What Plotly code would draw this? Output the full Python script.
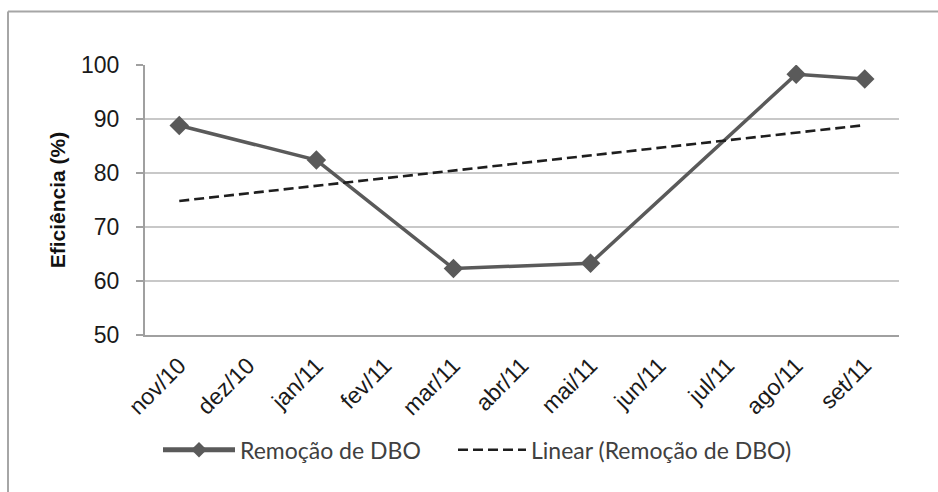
import numpy as np
import plotly.graph_objects as go

# Monthly categories and BOD removal efficiency (%); months without a sample are None
months = ["nov/10", "dez/10", "jan/11", "fev/11", "mar/11", "abr/11",
          "mai/11", "jun/11", "jul/11", "ago/11", "set/11"]
remocao_dbo = [88.8, None, 82.4, None, 62.3, None, 63.3, None, None, 98.3, 97.4]
y_ticks = [50, 60, 70, 80, 90, 100]

# Linear trend over category positions (same as a spreadsheet trendline)
idx = np.array([i for i, v in enumerate(remocao_dbo) if v is not None], dtype=float)
vals = np.array([v for v in remocao_dbo if v is not None], dtype=float)
slope, intercept = np.polyfit(idx, vals, 1)
trend = [intercept + slope * i for i in range(len(months))]

W, H = 938, 492
L, R, T, B = 145, 39, 64.5, 157
pw, ph = W - L - R, H - T - B

fig = go.Figure()
fig.add_trace(go.Scatter(
    x=months, y=remocao_dbo, name="Remoção de DBO",
    mode="lines+markers", connectgaps=True, legend="legend",
    line=dict(color="#5a5a5a", width=3.5),
    marker=dict(symbol="diamond", size=15, color="#5a5a5a"),
))
fig.add_trace(go.Scatter(
    x=months, y=trend, name="Linear (Remoção de DBO)",
    mode="lines", legend="legend2",
    line=dict(color="#1e1e1e", width=2.6, dash="10px,5px"),
))

def px_x(p):
    return (p - L) / pw

def px_y(p):
    return (H - B - p) / ph

# Outer chart frame (left and top edges)
frame = dict(color="#a6a6a6", width=2)
fig.add_shape(type="line", xref="paper", yref="paper",
              x0=px_x(8), x1=px_x(8), y0=px_y(11), y1=px_y(500), line=frame)
fig.add_shape(type="line", xref="paper", yref="paper",
              x0=px_x(8), x1=px_x(945), y0=px_y(11), y1=px_y(11), line=frame)

legend_font = dict(family="Lato, Open Sans, sans-serif", size=23, color="#404040")

fig.update_layout(
    width=W, height=H,
    margin=dict(l=L, r=R, t=T, b=B, autoexpand=False),
    paper_bgcolor="white", plot_bgcolor="white",
    showlegend=True,
    legend=dict(orientation="h", x=px_x(158), y=px_y(450), yanchor="middle",
                xanchor="left", itemwidth=72, itemsizing="constant",
                font=legend_font, bgcolor="rgba(0,0,0,0)"),
    legend2=dict(orientation="h", x=px_x(453), y=px_y(450), yanchor="middle",
                 xanchor="left", itemwidth=68,
                 font=legend_font, bgcolor="rgba(0,0,0,0)"),
    xaxis=dict(type="category", range=[-0.5, len(months) - 0.5],
               tickangle=-45, showgrid=False, automargin=False,
               showline=True, linecolor="#a0a0a0", linewidth=2,
               ticklabelstandoff=6,
               tickfont=dict(family="Liberation Sans, Arial", size=23, color="#1a1a1a"),
               ticks=""),
    yaxis=dict(range=[50, 100], tickvals=y_ticks, automargin=False,
               showgrid=True, gridcolor="#c8c8c8", gridwidth=2,
               showline=True, linecolor="#a0a0a0", linewidth=2,
               ticks="outside", ticklen=7, tickcolor="#a0a0a0", tickwidth=2,
               ticklabelstandoff=12,
               zeroline=False,
               tickfont=dict(family="Liberation Sans, Arial", size=23, color="#1a1a1a"),
               title=dict(text="<b>Eficiência (%)</b>", standoff=10,
                          font=dict(family="Liberation Sans, Arial", size=21, color="#111111"))),
)

fig.write_html("out.html")
